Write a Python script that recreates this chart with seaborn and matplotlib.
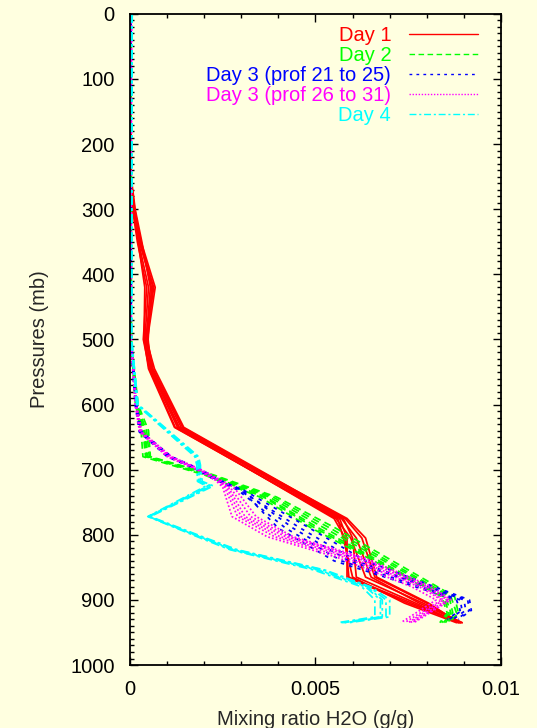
import matplotlib
matplotlib.use("Agg")
import matplotlib.pyplot as plt
from matplotlib.lines import Line2D
from matplotlib.ticker import MultipleLocator
import pandas as pd
import seaborn as sns

# Mixing ratio profiles in g/kg (converted to g/g below)
# Day 1
p_day1 = [0, 250, 300, 350, 420, 500, 545, 635, 775, 805, 865, 905, 935]
q_day1 = [
    [0.02, 0.00, 0.10, 0.25, 0.62, 0.42, 0.58, 1.32, 5.65, 5.85, 5.85, 7.50, 8.90],
    [0.02, 0.02, 0.12, 0.30, 0.68, 0.47, 0.62, 1.42, 5.75, 6.00, 6.10, 7.70, 8.85],
    [0.01, 0.01, 0.07, 0.20, 0.45, 0.36, 0.52, 1.22, 5.55, 5.95, 6.35, 7.90, 8.95],
    [0.02, 0.03, 0.14, 0.32, 0.55, 0.44, 0.66, 1.45, 5.80, 6.25, 6.60, 8.00, 8.90],
    [0.01, 0.00, 0.09, 0.22, 0.40, 0.38, 0.50, 1.20, 5.60, 5.75, 6.00, 7.40, 8.80],
    [0.02, 0.02, 0.11, 0.27, 0.64, 0.45, 0.60, 1.38, 5.70, 6.10, 6.50, 7.80, 8.95],
    [0.01, 0.01, 0.13, 0.28, 0.58, 0.49, 0.56, 1.33, 5.85, 6.35, 6.65, 8.05, 8.85],
    [0.02, 0.02, 0.10, 0.23, 0.50, 0.40, 0.54, 1.28, 5.50, 5.80, 5.90, 7.60, 8.90],
]
# Day 2
p_day2 = [0, 500, 600, 640, 680, 708, 742, 790, 895, 920, 935]
q_day2 = [
    [0.03, 0.02, 0.15, 0.30, 0.35, 2.00, 3.50, 4.90, 8.40, 8.55, 8.35],
    [0.03, 0.03, 0.18, 0.35, 0.42, 2.10, 3.65, 5.10, 8.50, 8.65, 8.45],
    [0.02, 0.02, 0.20, 0.40, 0.48, 2.15, 3.75, 5.25, 8.60, 8.70, 8.50],
    [0.03, 0.04, 0.17, 0.45, 0.52, 2.20, 3.85, 5.40, 8.65, 8.80, 8.55],
    [0.02, 0.03, 0.22, 0.50, 0.55, 2.25, 3.95, 5.55, 8.75, 8.85, 8.60],
    [0.03, 0.02, 0.16, 0.38, 0.45, 2.05, 3.60, 5.00, 8.45, 8.60, 8.40],
]
# Day 3, profiles 21 to 25
p_day3a = [0, 500, 600, 642, 680, 700, 716, 731, 790, 840, 900, 916, 930]
q_day3a = [
    [0.03, 0.02, 0.15, 0.27, 1.05, 1.85, 2.35, 2.95, 4.60, 6.10, 9.00, 9.05, 8.70],
    [0.02, 0.03, 0.17, 0.30, 1.10, 1.90, 2.40, 3.00, 4.40, 5.90, 9.10, 9.15, 8.80],
    [0.03, 0.02, 0.14, 0.25, 1.00, 1.80, 2.30, 2.90, 4.20, 5.70, 8.90, 8.95, 8.60],
    [0.02, 0.04, 0.16, 0.28, 1.08, 1.88, 2.38, 3.05, 4.85, 6.35, 9.15, 9.20, 8.85],
    [0.03, 0.03, 0.18, 0.32, 1.12, 1.92, 2.42, 3.00, 4.00, 5.50, 8.80, 8.90, 8.55],
]
# Day 3, profiles 26 to 31
p_day3b = [0, 500, 600, 642, 680, 700, 716, 727, 772, 803, 835, 880, 900, 935]
q_day3b = [
    [0.04, 0.02, 0.15, 0.28, 1.05, 1.85, 2.35, 2.55, 2.90, 3.90, 5.80, 7.80, 8.40, 7.40],
    [0.03, 0.03, 0.17, 0.30, 1.10, 1.90, 2.40, 2.65, 3.10, 4.20, 6.10, 8.00, 8.55, 7.55],
    [0.04, 0.02, 0.14, 0.26, 1.00, 1.80, 2.30, 2.50, 2.75, 3.70, 5.60, 7.60, 8.25, 7.30],
    [0.03, 0.04, 0.18, 0.32, 1.12, 1.92, 2.45, 2.80, 3.40, 4.40, 6.30, 8.15, 8.65, 7.65],
    [0.04, 0.03, 0.16, 0.29, 1.07, 1.88, 2.38, 2.60, 3.00, 4.05, 5.95, 7.90, 8.45, 7.50],
    [0.03, 0.02, 0.15, 0.27, 1.03, 1.83, 2.33, 2.70, 3.25, 4.30, 6.20, 8.05, 8.60, 7.60],
]
# Day 4
p_day4 = [0, 500, 600, 665, 680, 693, 718, 725, 772, 805, 823, 854, 880, 900, 926, 935]
q_day4 = [
    [0.05, 0.03, 0.20, 1.50, 1.80, 1.85, 1.85, 2.10, 0.50, 1.95, 2.75, 5.05, 6.35, 6.75, 6.75, 5.70],
    [0.06, 0.04, 0.22, 1.55, 1.85, 1.90, 1.90, 2.20, 0.52, 2.00, 2.85, 5.20, 6.45, 6.90, 6.90, 5.80],
    [0.05, 0.03, 0.18, 1.45, 1.75, 1.80, 1.82, 2.05, 0.48, 1.90, 2.70, 4.95, 6.25, 6.60, 6.60, 5.60],
    [0.06, 0.05, 0.21, 1.52, 1.82, 1.88, 1.95, 2.25, 0.55, 2.05, 2.90, 5.25, 6.50, 7.00, 7.00, 5.90],
    [0.05, 0.04, 0.19, 1.48, 1.78, 1.84, 1.88, 2.15, 0.50, 1.98, 2.80, 5.10, 6.40, 6.80, 6.80, 5.75],
]

groups = ['Day 1', 'Day 2', 'Day 3 (prof 21 to 25)', 'Day 3 (prof 26 to 31)', 'Day 4']
colors = ['#ff0000', '#00ff00', '#0000ff', '#ff00ff', '#00ffff']
dash_styles = ['', (4, 2.5), (2, 3), (1, 1.2), (5, 2, 1.5, 2)]

rows = []
for name, pres, profiles in zip(groups,
                                [p_day1, p_day2, p_day3a, p_day3b, p_day4],
                                [q_day1, q_day2, q_day3a, q_day3b, q_day4]):
    for k, prof in enumerate(profiles):
        for p, q in zip(pres, prof):
            rows.append({'group': name, 'profile': f'{name}-{k}', 'p': p, 'q': q / 1000.0})
df = pd.DataFrame(rows)

sns.set_style('ticks')
bg = '#ffffe0'
fs = 14.5
plt.rcParams['font.family'] = ['Liberation Sans', 'DejaVu Sans']
plt.rcParams['font.size'] = fs

fig = plt.figure(figsize=(5.37, 7.28), dpi=100, facecolor=bg)
ax = fig.add_axes([0.242, 0.0865, 0.691, 0.8945])
ax.set_facecolor(bg)

sns.lineplot(data=df, x='q', y='p', hue='group', style='group', units='profile',
             estimator=None, sort=False, palette=colors, dashes=dash_styles,
             hue_order=groups, style_order=groups, linewidth=1.25, legend=False, ax=ax)

ax.set_xlim(0, 0.01)
ax.set_ylim(1000, 0)
ax.xaxis.set_minor_locator(MultipleLocator(0.001))
ax.yaxis.set_major_locator(MultipleLocator(100))
ax.yaxis.set_minor_locator(MultipleLocator(10))
ax.set_xticks([0, 0.005, 0.01], ['0', '0.005', '0.01'])
ax.tick_params(which='both', direction='in', top=True, right=True, colors='black', labelsize=fs)
ax.tick_params(which='major', length=6, width=1.0, pad=11)
ax.tick_params(which='minor', length=3, width=1.0)
for s in ax.spines.values():
    s.set_color('black')
    s.set_linewidth(1.3)

ax.set_xlabel('Mixing ratio H2O (g/g)', fontsize=fs, labelpad=8)
ax.set_ylabel('Pressures (mb)', fontsize=fs, labelpad=15)

handles = []
for c, d in zip(colors, dash_styles):
    h = Line2D([], [], color=c, lw=1.0)
    if d:
        h.set_dashes(d)
    handles.append(h)
leg = ax.legend(handles, groups, loc='upper right', bbox_to_anchor=(0.97, 1.0),
                frameon=False, markerfirst=False, labelcolor='linecolor',
                handlelength=3.4, handletextpad=0.9, labelspacing=0.05,
                fontsize=fs, borderaxespad=0.2)

fig.savefig('out.png', dpi=100, facecolor=bg)
